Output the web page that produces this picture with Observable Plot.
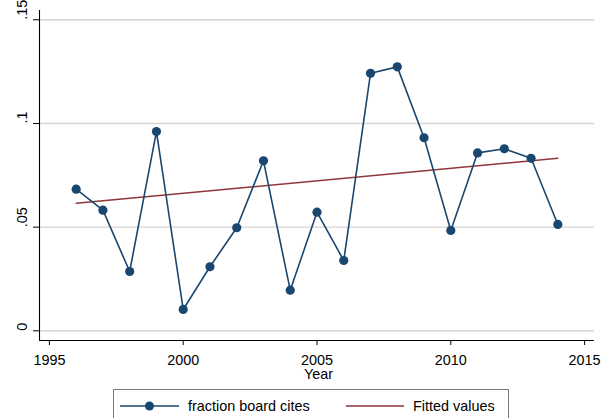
<!DOCTYPE html>
<html>
<head>
<meta charset="utf-8">
<script src="https://cdn.jsdelivr.net/npm/d3@7"></script>
<script src="https://cdn.jsdelivr.net/npm/@observablehq/plot@0.6"></script>
<style>
  html, body { margin: 0; padding: 0; background: #fff; }
  body { font-family: "Liberation Sans", Arial, Helvetica, sans-serif; width: 602px; height: 418px; overflow: hidden; }
  #chart svg { display: block; }
  .legend { position: relative; margin-left: 113px; margin-top: 1px; width: 396px; height: 40px;
            border: 1px solid #7a7a7a; box-sizing: border-box; font-size: 14.4px; color: #000; }
  .legend .item { position: absolute; top: 0; height: 32px; display: flex; align-items: center; }
  .legend svg { display: block; margin-right: 9px; }
</style>
</head>
<body>
<div id="chart"></div>
<div class="legend">
  <div class="item" style="left:6px">
    <svg width="59" height="12"><line x1="0" x2="59" y1="6" y2="6" stroke="#1a476f" stroke-width="1.6"/><circle cx="29.5" cy="6" r="4.5" fill="#1a476f"/></svg>
    <span>fraction board cites</span>
  </div>
  <div class="item" style="left:232px">
    <svg width="58" height="12"><line x1="0" x2="58" y1="6" y2="6" stroke="#90353b" stroke-width="1.4"/></svg>
    <span>Fitted values</span>
  </div>
</div>
<script>
// Share of board citations per year
const years = [1996, 1997, 1998, 1999, 2000, 2001, 2002, 2003, 2004, 2005,
               2006, 2007, 2008, 2009, 2010, 2011, 2012, 2013, 2014];
const fractionBoardCites = [0.0683, 0.0582, 0.0286, 0.0961, 0.0103, 0.0309, 0.0497, 0.0820, 0.0196, 0.0572,
                            0.0339, 0.1242, 0.1273, 0.0931, 0.0484, 0.0858, 0.0878, 0.0832, 0.0513];

// Linear fit, end points
const fittedYears = [1996, 2014];
const fittedValues = [0.0615, 0.0832];

// Axis ticks
const xTicks = [1995, 2000, 2005, 2010, 2015];
const yTicks = [0, 0.05, 0.1, 0.15];
const yTickLabels = ["0", ".05", ".1", ".15"];

const series = years.map((year, i) => ({year, value: fractionBoardCites[i]}));
const fitted = fittedYears.map((year, i) => ({year, value: fittedValues[i]}));

const xDomain = [1994.63, 2015.37];
const yDomain = [-0.00467, 0.15448];
const blue = "#1a476f";
const red = "#90353b";
const font = "'Liberation Sans', Arial, Helvetica, sans-serif";

const chart = Plot.plot({
  width: 602,
  height: 388,
  marginLeft: 39,
  marginRight: 8,
  marginTop: 10,
  marginBottom: 48,
  style: {fontFamily: font, fontSize: "14.4px", color: "#000", background: "#fff"},
  x: {domain: xDomain},
  y: {domain: yDomain},
  marks: [
    // horizontal grid
    Plot.ruleY(yTicks, {stroke: "#d4d4d4", strokeWidth: 1.4}),
    // axis lines
    Plot.ruleX([xDomain[0]], {stroke: "#000", strokeWidth: 1.1}),
    Plot.ruleY([yDomain[0]], {stroke: "#000", strokeWidth: 1.1}),
    // y axis ticks and rotated labels
    Plot.axisY({ticks: yTicks, tickSize: 6, tickFormat: () => "", label: null, stroke: "#000"}),
    Plot.text(yTicks, {
      y: d => d,
      text: (d, i) => yTickLabels[i],
      frameAnchor: "left",
      dx: -17,
      rotate: -90,
      fill: "#000",
      fontSize: 14.4
    }),
    // x axis
    Plot.axisX({ticks: xTicks, tickSize: 5, tickPadding: 9, tickFormat: d => String(d), label: null, stroke: "#000", fill: "#000"}),
    Plot.text(["Year"], {
      frameAnchor: "bottom",
      dx: 1.5,
      dy: 28.3,
      lineAnchor: "top",
      fill: "#000",
      fontSize: 14.4
    }),
    // fitted line
    Plot.line(fitted, {x: "year", y: "value", stroke: red, strokeWidth: 1.4}),
    // series
    Plot.line(series, {x: "year", y: "value", stroke: blue, strokeWidth: 1.6}),
    Plot.dot(series, {x: "year", y: "value", r: 4.6, fill: blue, stroke: "none"})
  ]
});

document.getElementById("chart").appendChild(chart);
</script>
</body>
</html>
